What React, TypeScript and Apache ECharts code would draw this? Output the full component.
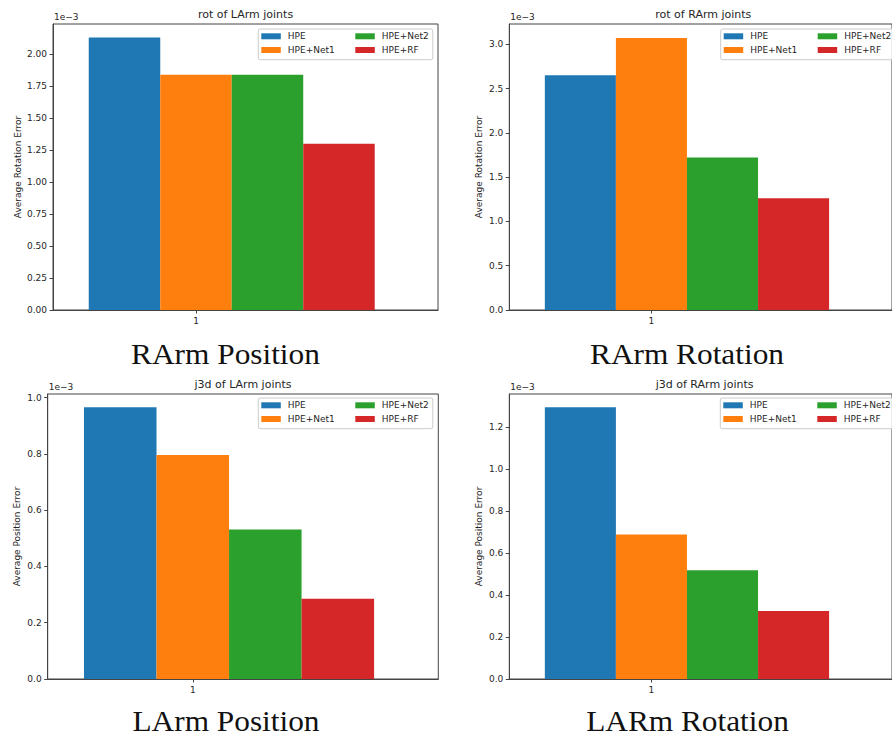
import React, { useEffect, useRef } from "react";
import * as echarts from "echarts";

// ---------- data (values in units of 1e-3) ----------
const methods = ["HPE", "HPE+Net1", "HPE+Net2", "HPE+RF"];
const colors = ["#1f77b4", "#ff7f0e", "#2ca02c", "#d62728"];
const barCenters = [0.8, 1.0, 1.2, 1.4];
const BAR_W = 0.2;
const xTicks = [1];

const rotLArm = [2.13, 1.84, 1.84, 1.3];
const rotRArm = [2.65, 3.07, 1.72, 1.26];
const j3dLArm = [0.965, 0.796, 0.531, 0.285];
const j3dRArm = [1.293, 0.688, 0.517, 0.323];

const ticksRotLArm = [0, 0.25, 0.5, 0.75, 1.0, 1.25, 1.5, 1.75, 2.0];
const ticksRotRArm = [0, 0.5, 1.0, 1.5, 2.0, 2.5, 3.0];
const ticksJ3dLArm = [0, 0.2, 0.4, 0.6, 0.8, 1.0];
const ticksJ3dRArm = [0, 0.2, 0.4, 0.6, 0.8, 1.0, 1.2];

const panelTitles = ["rot of LArm joints", "rot of RArm joints", "j3d of LArm joints", "j3d of RArm joints"];
const yNames = ["Average Rotation Error", "Average Rotation Error", "Average Position Error", "Average Position Error"];
const captions = ["RArm Position", "RArm Rotation", "LArm Position", "LARm Rotation"];
const offsetText = "1e\u22123";

// ---------- layout ----------
const SANS = "DejaVu Sans";
const SERIF = "Liberation Serif";
const TXT = "#262626";
const AX = "#444";

const panels = [
  { values: rotLArm, ticks: ticksRotLArm, dec: 2, ymax: 2.236, grid: { left: 53, top: 24, width: 385, height: 286 }, nameGap: 31, legendX: 258.3, legendY: 29, capX: 225.5, capY: 354 },
  { values: rotRArm, ticks: ticksRotRArm, dec: 1, ymax: 3.228, grid: { left: 509.3, top: 24, width: 388, height: 286 }, nameGap: 26, legendX: 720.7, legendY: 29, capX: 687, capY: 354 },
  { values: j3dLArm, ticks: ticksJ3dLArm, dec: 1, ymax: 1.0125, grid: { left: 47.7, top: 394, width: 390.6, height: 285 }, nameGap: 26, legendX: 258.3, legendY: 398, capX: 226, capY: 721 },
  { values: j3dRArm, ticks: ticksJ3dRArm, dec: 1, ymax: 1.356, grid: { left: 509.3, top: 394, width: 390.6, height: 285 }, nameGap: 26, legendX: 720.3, legendY: 398, capX: 687.5, capY: 721 },
];

function buildOption() {
  const grids: any[] = [];
  const xAxes: any[] = [];
  const yAxes: any[] = [];
  const series: any[] = [];
  const legends: any[] = [];
  const graphics: any[] = [];

  panels.forEach((p, i) => {
    grids.push({ ...p.grid, show: true, borderColor: AX, borderWidth: 1, backgroundColor: "transparent" });
    xAxes.push({
      type: "value",
      gridIndex: i,
      min: 0.6,
      max: 1.677,
      axisLine: { show: true, lineStyle: { color: AX, width: 1 } },
      splitLine: { show: false },
      axisTick: { show: true, customValues: xTicks, length: 3.5, lineStyle: { color: AX } },
      axisLabel: { customValues: xTicks, formatter: (v: number) => String(v), fontSize: 9, fontFamily: SANS, color: TXT, margin: 6 },
    });
    yAxes.push({
      type: "value",
      gridIndex: i,
      min: 0,
      max: p.ymax,
      name: yNames[i],
      nameLocation: "middle",
      nameGap: p.nameGap,
      nameTextStyle: { fontSize: 9, fontFamily: SANS, color: TXT },
      axisLine: { show: true, lineStyle: { color: AX, width: 1 } },
      splitLine: { show: false },
      axisTick: { show: true, customValues: p.ticks, length: 3.5, lineStyle: { color: AX } },
      axisLabel: { customValues: p.ticks, formatter: (v: number) => v.toFixed(p.dec), fontSize: 9, fontFamily: SANS, color: TXT, margin: 6 },
    });
    methods.forEach((m, k) => {
      series.push({
        type: "custom",
        name: m,
        xAxisIndex: i,
        yAxisIndex: i,
        itemStyle: { color: colors[k] },
        encode: { x: 0, y: 1 },
        data: [[barCenters[k], p.values[k]]],
        renderItem: (_params: any, api: any) => {
          const x = api.value(0);
          const y = api.value(1);
          const a = api.coord([x - BAR_W / 2, y]);
          const b = api.coord([x + BAR_W / 2, 0]);
          return {
            type: "rect",
            shape: { x: a[0], y: a[1], width: b[0] - a[0], height: b[1] - a[1] },
            style: { fill: colors[k] },
          };
        },
      });
    });

    // legend: two columns, column-major order like matplotlib
    const cols = [
      [methods[0], methods[1]],
      [methods[2], methods[3]],
    ];
    cols.forEach((names, c) => {
      legends.push({
        orient: "vertical",
        left: p.legendX + 3 + c * 94,
        top: p.legendY + 2.3,
        padding: 0,
        itemGap: 3.7,
        itemWidth: 19.5,
        itemHeight: 6,
        icon: "rect",
        selectedMode: false,
        data: names,
        textStyle: { fontSize: 9, fontFamily: SANS, color: TXT, lineHeight: 10, padding: [0, 0, 0, 2] },
      });
    });
    graphics.push({
      type: "rect",
      z: 3,
      shape: { x: p.legendX, y: p.legendY, width: 174.5, height: 30.7, r: 2 },
      style: { fill: "rgba(255,255,255,0.8)", stroke: "#cccccc", lineWidth: 1 },
    });

    const cx = p.grid.left + p.grid.width / 2;
    graphics.push({
      type: "text",
      x: cx,
      y: p.grid.top - 10,
      style: { text: panelTitles[i], fontSize: 11, fontFamily: SANS, fill: TXT, align: "center", verticalAlign: "middle", textAlign: "center", textVerticalAlign: "middle" },
    });
    graphics.push({
      type: "text",
      x: p.grid.left + 1,
      y: p.grid.top - 6.7,
      style: { text: offsetText, fontSize: 9, fontFamily: SANS, fill: TXT, align: "left", verticalAlign: "middle", textAlign: "left", textVerticalAlign: "middle" },
    });
    graphics.push({
      type: "text",
      x: p.capX,
      y: p.capY,
      scaleX: 1.08,
      style: { text: captions[i], fontSize: 29, fontFamily: SERIF, fill: "#111", align: "center", verticalAlign: "middle", textAlign: "center", textVerticalAlign: "middle" },
    });
  });

  return {
    animation: false,
    backgroundColor: "#ffffff",
    grid: grids,
    xAxis: xAxes,
    yAxis: yAxes,
    legend: legends,
    series,
    graphic: { elements: graphics },
  };
}

export default function App() {
  const ref = useRef<HTMLDivElement>(null);
  useEffect(() => {
    if (!ref.current) return;
    const chart = echarts.init(ref.current, undefined, { renderer: "svg" });
    chart.setOption(buildOption() as any);
    return () => chart.dispose();
  }, []);
  return <div ref={ref} style={{ position: "fixed", left: 0, top: 0, width: 892, height: 738, background: "#fff" }} />;
}
